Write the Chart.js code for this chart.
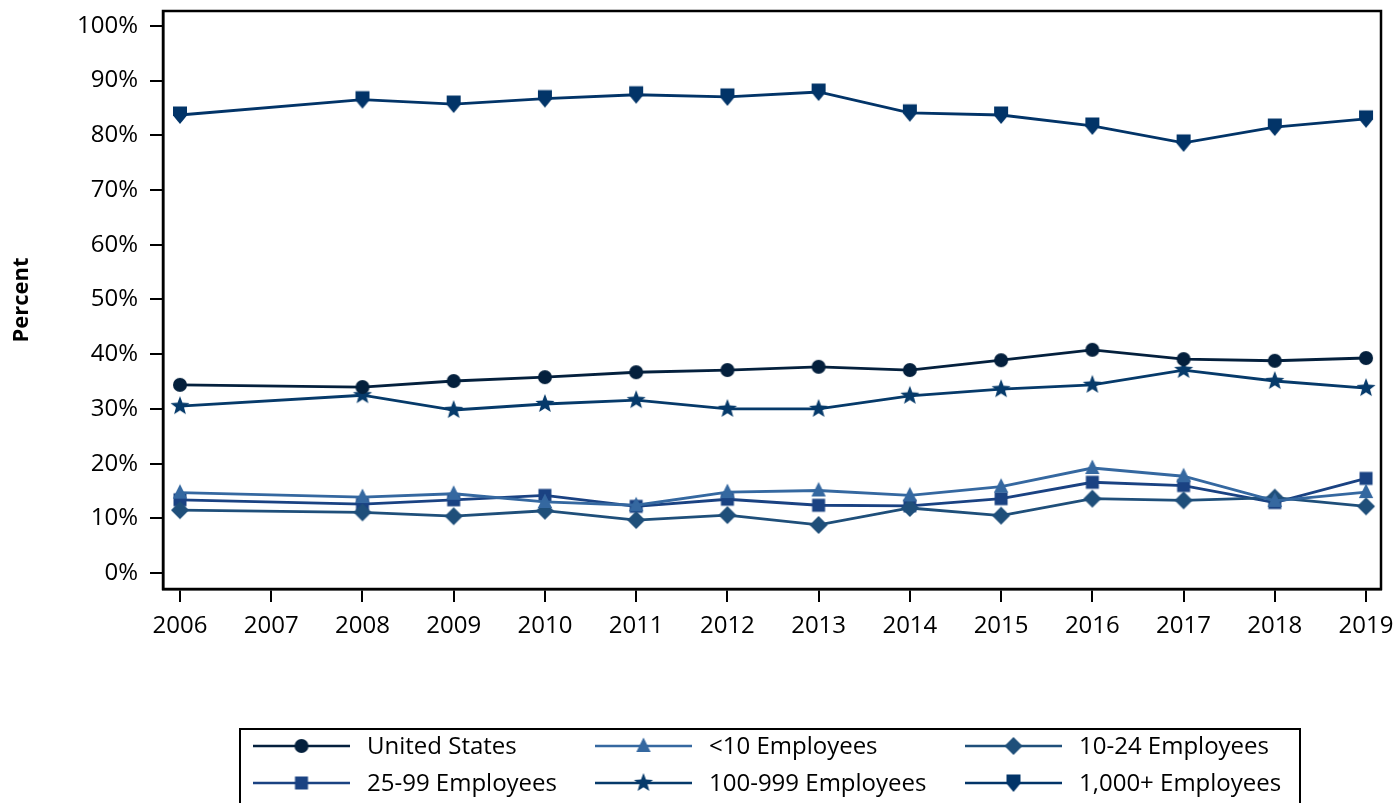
<!DOCTYPE html>
<html>
<head>
<meta charset="utf-8">
<script src="https://cdn.jsdelivr.net/npm/chart.js@4.4.1/dist/chart.umd.min.js"></script>
<style>
  html, body { margin: 0; background: #fff; }
  #wrap { width: 1396px; height: 803px; }
</style>
</head>
<body>
<div id="wrap"><canvas id="chart" width="1396" height="803"></canvas></div>
<script>
// ── data (percent) ──
const years = [2006, 2008, 2009, 2010, 2011, 2012, 2013, 2014, 2015, 2016, 2017, 2018, 2019];
const tickYears = [2006, 2007, 2008, 2009, 2010, 2011, 2012, 2013, 2014, 2015, 2016, 2017, 2018, 2019];
const yTicks = [0, 10, 20, 30, 40, 50, 60, 70, 80, 90, 100];

const unitedStates = [34.4, 34.0, 35.1, 35.8, 36.7, 37.1, 37.7, 37.1, 38.9, 40.8, 39.1, 38.8, 39.3];
const under10      = [14.7, 13.9, 14.5, 13.0, 12.4, 14.8, 15.1, 14.2, 15.8, 19.2, 17.7, 13.2, 14.8];
const emp10to24    = [11.5, 11.1, 10.4, 11.4, 9.7, 10.6, 8.8, 11.9, 10.5, 13.6, 13.3, 13.8, 12.2];
const emp25to99    = [13.4, 12.6, 13.4, 14.2, 12.2, 13.5, 12.4, 12.3, 13.6, 16.6, 16.0, 12.9, 17.3];
const emp100to999  = [30.5, 32.5, 29.8, 30.9, 31.6, 30.0, 30.0, 32.4, 33.6, 34.4, 37.1, 35.1, 33.8];
const emp1000plus  = [83.7, 86.5, 85.7, 86.7, 87.4, 87.0, 87.9, 84.1, 83.7, 81.7, 78.6, 81.5, 83.0];

const FONT = "'Open Sans', sans-serif";

// ── marker sprites (used for points and legend) ──
function makeMarker(shape, color) {
  const size = 24;
  const c = document.createElement('canvas');
  c.width = size; c.height = size;
  const g = c.getContext('2d');
  g.fillStyle = color;
  g.translate(size / 2, size / 2);
  g.beginPath();
  if (shape === 'circle') {
    g.arc(0, 0, 7, 0, Math.PI * 2);
  } else if (shape === 'triangle') {
    g.moveTo(0, -8.5); g.lineTo(7.2, 6); g.lineTo(-7.2, 6);
  } else if (shape === 'diamond') {
    g.moveTo(0, -9); g.lineTo(9, 0); g.lineTo(0, 9); g.lineTo(-9, 0);
  } else if (shape === 'square') {
    g.rect(-6.5, -6.5, 13, 13);
  } else if (shape === 'star') {
    for (let i = 0; i < 10; i++) {
      const r = i % 2 ? 4.2 : 10;
      const a = -Math.PI / 2 + i * Math.PI / 5;
      g.lineTo(Math.cos(a) * r, Math.sin(a) * r);
    }
  } else if (shape === 'shield') {
    g.moveTo(-7, -8.5); g.lineTo(7, -8.5); g.lineTo(7, 0.5); g.lineTo(0, 9); g.lineTo(-7, 0.5);
  }
  g.closePath();
  g.fill();
  return c;
}

const series = [
  { label: 'United States',     data: unitedStates, color: '#04203d', shape: 'circle' },
  { label: '<10 Employees',     data: under10,      color: '#3568a0', shape: 'triangle' },
  { label: '10-24 Employees',   data: emp10to24,    color: '#1f4f7a', shape: 'diamond' },
  { label: '25-99 Employees',   data: emp25to99,    color: '#1a4282', shape: 'square' },
  { label: '100-999 Employees', data: emp100to999,  color: '#063a6a', shape: 'star' },
  { label: '1,000+ Employees',  data: emp1000plus,  color: '#023468', shape: 'shield' },
];
series.forEach(s => { s.marker = makeMarker(s.shape, s.color); });

// ── box around the plot + boxed legend below ──
const framePlugin = {
  id: 'frame',
  afterDraw(chart) {
    const { ctx, chartArea: a } = chart;
    ctx.save();
    ctx.strokeStyle = '#000';
    ctx.lineWidth = 2.5;
    ctx.strokeRect(a.left, a.top, a.right - a.left, a.bottom - a.top);

    // legend
    ctx.lineWidth = 2;
    ctx.strokeRect(240, 729, 1060, 90);
    const colX = [253, 595, 965];
    const rowY = [746, 783];
    ctx.font = '24px ' + FONT;
    ctx.textBaseline = 'middle';
    ctx.fillStyle = '#000';
    series.forEach((s, i) => {
      const x = colX[i % 3];
      const y = rowY[Math.floor(i / 3)];
      ctx.strokeStyle = s.color;
      ctx.lineWidth = 2.5;
      ctx.beginPath();
      ctx.moveTo(x, y); ctx.lineTo(x + 97, y);
      ctx.stroke();
      ctx.drawImage(s.marker, x + 48.5 - s.marker.width / 2, y - s.marker.height / 2);
      ctx.fillText(s.label, x + 114, y + 1);
    });
    ctx.restore();
  }
};

const axisGrid = { drawOnChartArea: false, drawTicks: true, tickLength: 13, color: '#000', lineWidth: 2 };
const noPad = s => { s.paddingTop = 0; s.paddingBottom = 0; s.paddingLeft = 0; s.paddingRight = 0; };

new Chart(document.getElementById('chart'), {
  type: 'line',
  data: {
    datasets: series.map(s => ({
      label: s.label,
      data: years.map((yr, i) => ({ x: yr, y: s.data[i] })),
      borderColor: s.color,
      backgroundColor: s.color,
      borderWidth: 2.8,
      tension: 0,
      pointStyle: s.marker,
      pointRadius: 7,
      fill: false,
    })),
  },
  options: {
    responsive: false,
    animation: false,
    devicePixelRatio: 1,
    layout: { padding: { left: 0, top: 11, right: 15, bottom: 154 } },
    plugins: { legend: { display: false }, tooltip: { enabled: false } },
    scales: {
      x: {
        type: 'linear',
        min: 2005.814,
        max: 2019.164,
        afterBuildTicks: s => { s.ticks = tickYears.map(v => ({ value: v })); },
        afterFit: s => { s.height = 60; noPad(s); },
        ticks: {
          callback: v => String(v),
          color: '#000',
          font: { family: FONT, size: 24 },
          padding: 10,
          maxRotation: 0,
          autoSkip: false,
        },
        grid: axisGrid,
        border: { display: true, color: '#000', width: 2.5 },
      },
      y: {
        type: 'linear',
        min: -2.9,
        max: 102.7,
        afterBuildTicks: s => { s.ticks = yTicks.map(v => ({ value: v })); },
        afterFit: s => { s.width = 163; noPad(s); },
        ticks: {
          callback: v => v + '%',
          color: '#000',
          font: { family: FONT, size: 24 },
          padding: 12,
        },
        grid: axisGrid,
        border: { display: true, color: '#000', width: 2.5 },
        title: {
          display: true,
          text: 'Percent',
          color: '#000',
          font: { family: FONT, size: 22, weight: 'bold' },
          padding: { top: 9, bottom: 0 },
        },
      },
    },
  },
  plugins: [framePlugin],
});
</script>
</body>
</html>
